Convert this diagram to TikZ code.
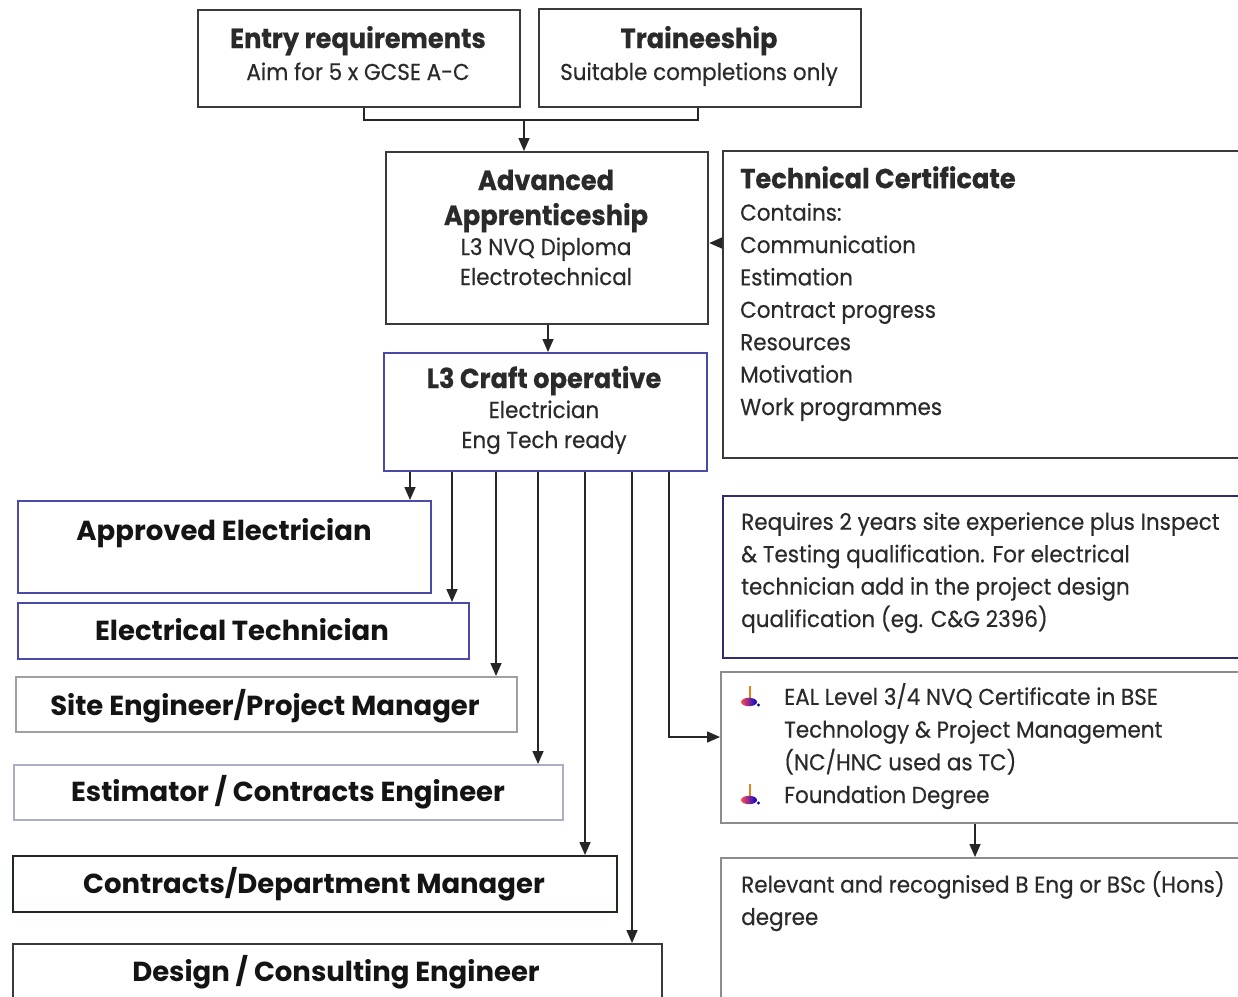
\documentclass[tikz,border=0pt]{standalone}
\usepackage{fontspec}
\setmainfont{Poppins}
\newfontfamily\rfont{Poppins}[FakeStretch=0.935,FakeBold=0.4]
\usetikzlibrary{arrows.meta,calc}
\definecolor{cDark}{HTML}{3A3A3A}
\definecolor{cBlue}{HTML}{4A4AA8}
\definecolor{cNavy}{HTML}{2E2E6E}
\definecolor{cLight}{HTML}{A0A0A0}
\definecolor{cLav}{HTML}{ACACCC}
\definecolor{cGreen}{HTML}{1E2A1E}
\definecolor{cGrey}{HTML}{8C8C8C}
\definecolor{cText}{HTML}{2A2A2A}
\newcommand{\ttlf}{\bfseries\fontsize{27.5}{32}\selectfont}
\begin{document}
\begin{tikzpicture}[x=1pt,y=-1pt,
  box/.style={draw=cDark, line width=2.2pt, inner sep=0pt, anchor=north west},
  ttl/.style={font=\ttlf, text=black!92, inner sep=0pt, anchor=base},
  cen/.style={font=\rfont\fontsize{23}{30}\selectfont, text=cText, inner sep=0pt, anchor=base, align=center},
  body/.style={font=\rfont\fontsize{23}{32.4}\selectfont, text=cText, inner sep=0pt, anchor=base west, align=left},
  conn/.style={line width=1.6pt, draw=black!85},
  arr/.style={conn, -{Triangle[length=13pt,width=11pt]}},
]
\useasboundingbox (0,0) rectangle (1238,996);
\fill[white] (0,0) rectangle (1238,996);

% boxes
\node[box, minimum width=322pt, minimum height=97pt] (entry) at (197,9) {};
\node[box, minimum width=322pt, minimum height=98pt] (train) at (538,8) {};
\node[box, minimum width=322pt, minimum height=172pt] (adv) at (385,151) {};
\node[box, draw=cDark, minimum width=530pt, minimum height=307pt] (tc) at (722,150) {};
\node[box, draw=cBlue, minimum width=323pt, minimum height=118pt] (craft) at (383,352) {};
\node[box, draw=cBlue, minimum width=413pt, minimum height=92pt] (ae) at (17,500) {};
\node[box, draw=cBlue, minimum width=451pt, minimum height=56pt] (et) at (17,602) {};
\node[box, draw=cLight, minimum width=501pt, minimum height=55pt] (se) at (15,676) {};
\node[box, draw=cLav, minimum width=549pt, minimum height=55pt] (est) at (13,764) {};
\node[box, draw=cGreen, minimum width=604pt, minimum height=56pt] (cdm) at (12,855) {};
\node[box, draw=cDark, minimum width=649pt, minimum height=70pt] (dce) at (12,943) {};
\node[box, draw=cNavy, minimum width=530pt, minimum height=162pt] (req) at (722,495) {};
\node[box, draw=cGrey, minimum width=530pt, minimum height=151pt] (eal) at (720,671) {};
\node[box, draw=cGrey, minimum width=530pt, minimum height=160pt] (rel) at (720,857) {};

% texts (multi-line nodes are anchored at the baseline of their last line)
\node[cen] (entryT) at (358,80) {{\ttlf Entry requirements}\\[2pt]Aim for 5 x GCSE A-C};
\node[cen] (trainT) at (699,80) {{\ttlf Traineeship}\\[2pt]Suitable completions only};
\node[cen] (advT) at (546,285) {{\ttlf Advanced}\\[5pt]{\ttlf Apprenticeship}\\L3 NVQ Diploma\\Electrotechnical};
\node[cen] (craftT) at (544,448) {{\ttlf L3 Craft operative}\\Electrician\\Eng Tech ready};
\node[body] (tcT) at (740,415) {{\ttlf Technical Certificate}\\Contains:\\Communication\\Estimation\\Contract progress\\Resources\\Motivation\\Work programmes};
\node[ttl] (aeT) at (224,540) {Approved Electrician};
\node[ttl] (etT) at (242,640) {Electrical Technician};
\node[ttl] (seT) at (265,715) {Site Engineer/Project Manager};
\node[ttl] (estT) at (288,801) {Estimator / Contracts Engineer};
\node[ttl] (cdmT) at (314,893) {Contracts/Department Manager};
\node[ttl] (dceT) at (336,981) {Design / Consulting Engineer};
\node[body] (reqT) at (741,627) {Requires 2 years site experience plus Inspect\\\& Testing qualification. For electrical\\technician add in the project design\\qualification (eg. C\&G 2396)};
\node[body, font=\rfont\fontsize{23}{32.7}\selectfont] (ealT) at (784,803) {EAL Level 3/4 NVQ Certificate in BSE\\Technology \& Project Management\\(NC/HNC used as TC)\\Foundation Degree};
\node[body] (relT) at (741,925) {Relevant and recognised B Eng or BSc (Hons)\\degree};

% bullets
\foreach \yy in {705,803}{
  \draw[line width=2.2pt, draw=orange!60!brown] (750,\yy-19) -- (750,\yy-5);
  \shade[left color=red!70, right color=blue!85!black] (749,\yy-3) ellipse (8 and 4.2);
  \fill[blue!70!black] (758.5,\yy) circle (1.6);
}

% connectors
\coordinate (j1) at (524,120);
\coordinate (xe) at (364,0);
\coordinate (xt) at (698,0);
\draw[conn] (entry.south -| xe) |- (j1) -| (train.south -| xt);
\draw[arr] (j1) -- (j1 |- adv.north);
\coordinate (ytc) at (0,243);
\draw[arr] (tc.west |- ytc) -- (adv.east |- ytc);
\coordinate (xa) at (548,0);
\draw[arr] (adv.south -| xa) -- (craft.north -| xa);
\coordinate (x1) at (410,0);
\coordinate (x2) at (452,0);
\coordinate (x3) at (496,0);
\coordinate (x4) at (538,0);
\coordinate (x5) at (585,0);
\coordinate (x6) at (632,0);
\coordinate (x7) at (669,0);
\draw[arr] (craft.south -| x1) -- (ae.north -| x1);
\draw[arr] (craft.south -| x2) -- (et.north -| x2);
\draw[arr] (craft.south -| x3) -- (se.north -| x3);
\draw[arr] (craft.south -| x4) -- (est.north -| x4);
\draw[arr] (craft.south -| x5) -- (cdm.north -| x5);
\draw[arr] (craft.south -| x6) -- (dce.north -| x6);
\coordinate (ye) at (0,737);
\draw[arr] (craft.south -| x7) |- (eal.west |- ye);
\coordinate (xr) at (975,0);
\draw[arr] (eal.south -| xr) -- (rel.north -| xr);
\end{tikzpicture}
\end{document}
